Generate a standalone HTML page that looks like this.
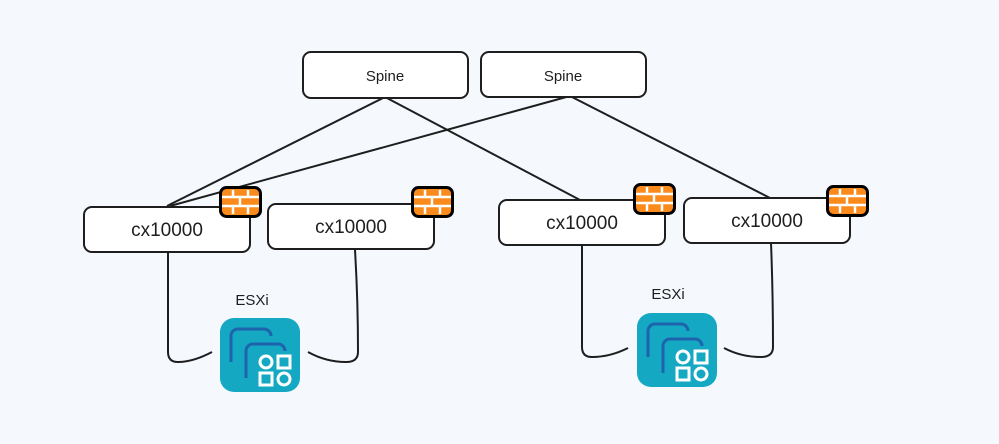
<!DOCTYPE html>
<html><head><style>
body{margin:0;background:#f5f9fd;}
svg{display:block}
text{font-family:"Liberation Sans",sans-serif;fill:#1e1e1e}
</style></head><body>
<svg width="999" height="444" viewBox="0 0 999 444">
<rect width="999" height="444" fill="#f5f9fd"/>
<defs>
<g id="fw">
<rect x="1.5" y="1.5" width="40" height="29" rx="6" fill="#f98a1b" stroke="#000" stroke-width="3"/>
<g stroke="#fff" stroke-width="2.5">
<line x1="3" y1="11" x2="40" y2="11"/><line x1="3" y1="20" x2="40" y2="20"/>
<line x1="14" y1="4" x2="14" y2="11"/><line x1="29" y1="4" x2="29" y2="11"/>
<line x1="21" y1="11" x2="21" y2="20"/>
<line x1="14" y1="20" x2="14" y2="28"/><line x1="29" y1="20" x2="29" y2="28"/>
</g></g>
<g id="esxi">
<rect x="0" y="0" width="80" height="74" rx="14" fill="#14a8c2"/>
<path d="M11 44 V18 a7 7 0 0 1 7-7 H44 a7 7 0 0 1 7 7" fill="none" stroke="#1d64ad" stroke-width="3"/>
<path d="M26 60 V33 a7 7 0 0 1 7-7 H58 a7 7 0 0 1 7 7" fill="none" stroke="#1d64ad" stroke-width="3"/>
<circle cx="46" cy="44" r="6" fill="none" stroke="#fff" stroke-width="3"/>
<rect x="58" y="38" width="12" height="12" fill="none" stroke="#fff" stroke-width="3"/>
<rect x="40" y="55" width="12" height="12" fill="none" stroke="#fff" stroke-width="3"/>
<circle cx="64" cy="61" r="6" fill="none" stroke="#fff" stroke-width="3"/>
</g>
</defs>
<g fill="none" stroke="#1e1e1e" stroke-width="2">
<line x1="385" y1="97" x2="167" y2="206"/>
<line x1="385" y1="97" x2="580" y2="200"/>
<line x1="570" y1="96" x2="170" y2="206"/>
<line x1="570" y1="96" x2="770" y2="198"/>
<path d="M168 253 V352 q0 10 10 10 q15 0 34 -10"/>
<path d="M355 250 q3 50 3 102 q0 10 -12 10 q-20 0 -38 -10"/>
<path d="M582 245 V347 q0 10 10 10 q18 0 36 -9"/>
<path d="M771 243 q2 50 2 104 q0 10 -12 10 q-20 0 -37 -9"/>
</g>
<g fill="#fff" stroke="#1e1e1e" stroke-width="2">
<rect x="303" y="52" width="165" height="46" rx="8"/>
<rect x="481" y="52" width="165" height="45" rx="8"/>
<rect x="84" y="207" width="166" height="45" rx="8"/>
<rect x="268" y="204" width="166" height="45" rx="8"/>
<rect x="499" y="200" width="166" height="45" rx="8"/>
<rect x="684" y="198" width="166" height="45" rx="8"/>
</g>
<g font-size="15" text-anchor="middle">
<text x="385" y="81">Spine</text>
<text x="563" y="81">Spine</text>
</g>
<g font-size="19" text-anchor="middle">
<text x="167" y="236">cx10000</text>
<text x="351" y="233">cx10000</text>
<text x="582" y="229">cx10000</text>
<text x="767" y="227">cx10000</text>
</g>
<use href="#fw" x="219" y="186"/>
<use href="#fw" x="411" y="186"/>
<use href="#fw" x="633" y="183"/>
<use href="#fw" x="826" y="185"/>
<use href="#esxi" x="220" y="318"/>
<use href="#esxi" x="637" y="313"/>
<g font-size="15" text-anchor="middle">
<text x="252" y="305">ESXi</text>
<text x="668" y="299">ESXi</text>
</g>
</svg>
</body></html>
